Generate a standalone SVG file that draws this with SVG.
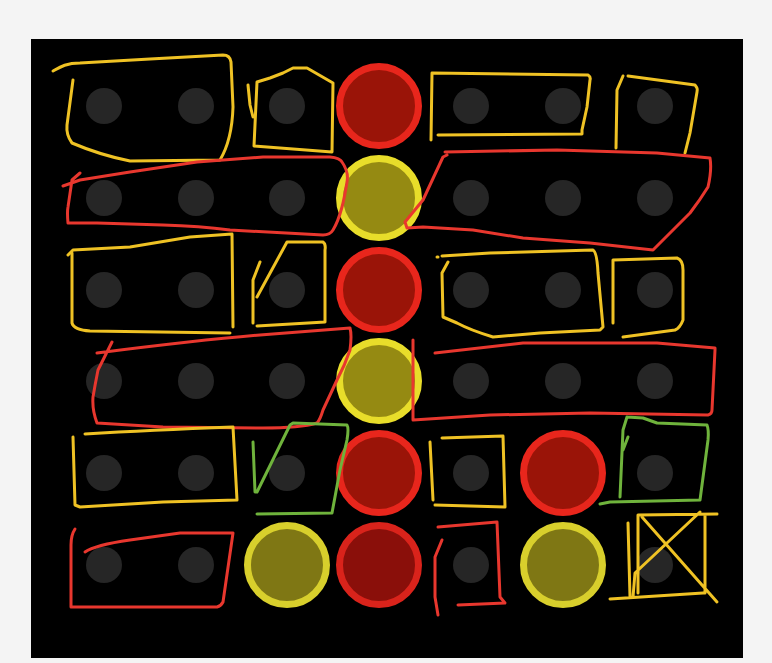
<svg xmlns="http://www.w3.org/2000/svg" width="772" height="663" viewBox="0 0 772 663">
<style>
.hole{fill:#262626}
.red{fill:#9a1408;stroke:#e8261c;stroke-width:7}
.red2{fill:#8a0f0a;stroke:#d9231b;stroke-width:7}
.yel{fill:#958a12;stroke:#e8dd2a;stroke-width:7}
.yel2{fill:#7f7714;stroke:#d8cf2c;stroke-width:7}
.y{fill:none;stroke:#efc224;stroke-width:3;stroke-linecap:round;stroke-linejoin:round}
.r{fill:none;stroke:#e8372e;stroke-width:3;stroke-linecap:round;stroke-linejoin:round}
.g{fill:none;stroke:#6fb33c;stroke-width:3;stroke-linecap:round;stroke-linejoin:round}
</style>
<rect x="0" y="0" width="772" height="663" fill="#f4f4f4"/>
<rect x="31" y="39" width="712" height="619" fill="#000"/>
<g id="holes">
<circle class="hole" cx="104" cy="106" r="18"/><circle class="hole" cx="196" cy="106" r="18"/><circle class="hole" cx="287" cy="106" r="18"/><circle class="hole" cx="471" cy="106" r="18"/><circle class="hole" cx="563" cy="106" r="18"/><circle class="hole" cx="655" cy="106" r="18"/>
<circle class="hole" cx="104" cy="198" r="18"/><circle class="hole" cx="196" cy="198" r="18"/><circle class="hole" cx="287" cy="198" r="18"/><circle class="hole" cx="471" cy="198" r="18"/><circle class="hole" cx="563" cy="198" r="18"/><circle class="hole" cx="655" cy="198" r="18"/>
<circle class="hole" cx="104" cy="290" r="18"/><circle class="hole" cx="196" cy="290" r="18"/><circle class="hole" cx="287" cy="290" r="18"/><circle class="hole" cx="471" cy="290" r="18"/><circle class="hole" cx="563" cy="290" r="18"/><circle class="hole" cx="655" cy="290" r="18"/>
<circle class="hole" cx="104" cy="381" r="18"/><circle class="hole" cx="196" cy="381" r="18"/><circle class="hole" cx="287" cy="381" r="18"/><circle class="hole" cx="471" cy="381" r="18"/><circle class="hole" cx="563" cy="381" r="18"/><circle class="hole" cx="655" cy="381" r="18"/>
<circle class="hole" cx="104" cy="473" r="18"/><circle class="hole" cx="196" cy="473" r="18"/><circle class="hole" cx="287" cy="473" r="18"/><circle class="hole" cx="471" cy="473" r="18"/><circle class="hole" cx="655" cy="473" r="18"/>
<circle class="hole" cx="104" cy="565" r="18"/><circle class="hole" cx="196" cy="565" r="18"/><circle class="hole" cx="471" cy="565" r="18"/><circle class="hole" cx="655" cy="565" r="18"/>
</g>
<g id="discs">
<circle class="red" cx="379" cy="106" r="39.5"/>
<circle class="yel" cx="379" cy="198" r="39.5"/>
<circle class="red" cx="379" cy="290" r="39.5"/>
<circle class="yel" cx="379" cy="381" r="39.5"/>
<circle class="red" cx="379" cy="473" r="39.5"/>
<circle class="red2" cx="379" cy="565" r="39.5"/>
<circle class="yel2" cx="287" cy="565" r="39.5"/>
<circle class="red" cx="563" cy="473" r="39.5"/>
<circle class="yel2" cx="563" cy="565" r="39.5"/>
</g>
<g id="annotations">
<path class="y" d="M53,71 C60,67 66,63 80,63 L150,59 L223,55 Q230,55 231,62 L233,107 Q232,140 220,160 L130,161 Q100,155 72,143 Q66,135 67,125 L73,80"/>
<path class="y" d="M248,85 L250,105 L253,117"/>
<path class="y" d="M257,82 L254,146 L332,152 L333,83 L307,68 L293,68 L283,73 L270,78 Z"/>
<path class="r" d="M63,186 L80,180 L130,172 L197,162 L263,157 L330,157 Q340,158 342,162 Q349,172 347,182 Q344,200 342,207 Q338,222 333,230 Q330,235 323,235 L230,230 Q200,226 163,225 L97,223 L68,223 Q67,212 68,207 L72,180 L80,173"/>
<path class="y" d="M68,255 L73,250 L130,247 L190,237 L232,234 L233,327"/>
<path class="y" d="M72,253 L72,323 Q74,330 90,331 L230,333"/>
<path class="y" d="M260,262 L253,280 L253,323 M257,297 L287,242 L323,242 Q326,244 325,250 L325,322 L257,326"/>
<path class="r" d="M97,353 Q200,340 260,335 L350,328 Q352,335 350,350 Q345,365 337,380 Q330,395 323,410 Q320,420 317,423 Q300,428 263,428 L163,427 L97,423 Q92,410 93,397 Q95,385 98,370 L112,342"/>
<path class="y" d="M85,434 Q150,430 233,427 L237,500 L163,502 L80,507 L75,505 L73,437"/>
<path class="g" d="M253,442 L255,492 L257,492 L290,425 L293,423 L347,425 Q349,428 347,440 L340,470 L332,513 L257,514"/>
<path class="r" d="M75,529 Q71,535 71,545 L71,607 L217,607 Q221,606 223,602 L233,533 L180,533 L130,540 Q95,545 85,552"/>
<path class="y" d="M431,140 L432,73 L588,75 Q591,77 590,80 L587,107 L582,130 L582,134 L438,135"/>
<path class="y" d="M623,76 L617,90 L616,148 M628,76 L695,85 Q698,88 697,92 L690,133 L685,153"/>
<path class="r" d="M445,152 L557,150 L657,153 L710,158 Q712,170 708,187 Q700,200 690,213 L653,250 L590,243 L523,238 L473,230 L423,227 L407,228 L405,222 L423,200 L443,157 L447,155"/>
<path class="y" d="M437,257 L438,257 M442,256 L490,253 L593,250 Q597,252 598,273 L603,327 L600,330 L540,333 L493,337 Q470,330 457,323 L443,317 L442,273 L448,262"/>
<path class="y" d="M613,323 L613,260 L677,258 Q683,260 683,270 L683,320 Q680,328 675,330 L623,337"/>
<path class="r" d="M413,340 L413,420 L490,415 L590,413 L708,415 Q712,414 712,410 L715,350 L715,348 L657,343 L523,343 L435,353"/>
<path class="y" d="M430,442 L433,500 M442,438 L503,436 L505,507 L435,505"/>
<path class="g" d="M628,437 L623,450 M627,417 L643,418 L657,423 L707,425 Q709,430 708,440 L700,500 L610,502 L600,504 M627,417 L623,430 L620,497"/>
<path class="r" d="M442,540 L435,557 L435,597 L438,615 M438,527 L497,522 L500,597 L505,603 L458,605"/>
<path class="y" d="M628,523 L630,597 M638,515 L638,593 M638,515 L717,514 M705,515 L705,593 M610,599 L703,593 M642,517 L717,602 M633,597 L635,573 Q670,540 700,512"/>
</g>
</svg>
